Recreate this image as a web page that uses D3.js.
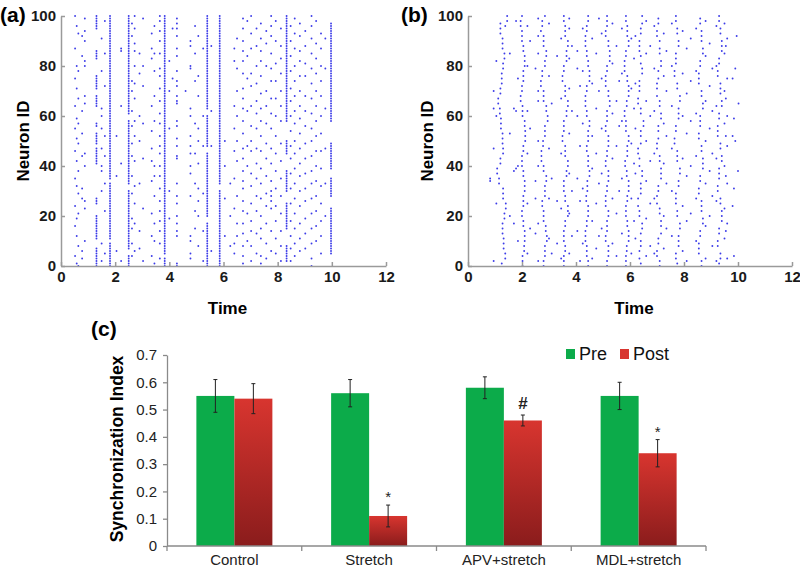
<!DOCTYPE html>
<html><head><meta charset="utf-8">
<script src="https://cdn.jsdelivr.net/npm/d3@7"></script>
<style>body{margin:0;background:#fff}</style>
</head><body><svg id="c" width="800" height="569"></svg>
<script>
// ---------- data ----------
const timeTicks=[0,2,4,6,8,10,12];
const neuronTicks=[0,20,40,60,80,100];
// raster (a): "time:neuronIDs" (a-b = every neuron from a to b)
const spikesA=[
"0.52:100,87,75,64,55,46,35,24,16,4","0.58:96,80,71,59,51,42,32,19,12,1","0.64:93,78,67,57,49,38,29,21,8,0",
"0.78:92,84,62,53,44,31,27,6,3","0.88:99,94,90,82,80,68,65,45,40,26,23,10",
"1.31:95-100,83-86,71-76,64-68,56-57,49-53,41-47,25-27,11-20,0-7",
"1.5:91,78,63,60,55,47,40,38,30,9,2","1.62:98,85,72,52,44,33,22,5",
"1.81:0-9,11-33,35-100",
"2.05:52,36,6","2.22:87,86,64,41,2",
"2.5:0-4,7-30,33-58,61-100",
"2.62:97,92,74,70,62,56,49,44,36,29,19,15,9,4","2.72:100,95,89,86,80,73,67,58,52,42,32,25,17,6",
"2.9:85,77,60,50,33,14,7","3.03:99,80,72,57,43,23,2",
"3.35:93,87,83,64,54,47,42,34,21,12,4","3.45:96,85,78,68,58,40,36,28,17,10,1",
"3.65:100,98,94,90,85,79,76,71,66,61,57,52,48,45,40,36,31,26,22,18,14,9,3",
"3.83:0-3,5-100",
"4.0:82,70,55,30,19","4.12:95,75",
"4.28:99,97,95,92,87,84,78,74,72,68,66,65,58,56,51,48,44,43,33,28,25,20,17,14,12,1,0",
"4.6:70","4.78:90,88,80,79,63,60,52,48,45,40,37,28,12,10,5,3",
"4.95:96,85,74,57,45,33,22,15","5.07:92,76,68,55,50,41,31,26,20,8","5.25:87,60,48,29,14,2",
"5.4:0-17,20-45,48-60,63-100","5.55:88,62,48,6",
"5.86:0-30,33-100",
"6.05:50,40,27,12","6.25:33,20,8",
"6.4:87,82,64,55,46,35,23,9,5","6.5:91,79,70,60,50,42,28,17,12",
"6.72:99,95,90,86,82,77,71,67,63,58,53,47,43,38,34,31,26,22,17,13,8,4,1",
"6.88:98,84,75,62,48,40,21,10","7.02:100,93,87,77,72,64,56,50,46,37,32,25,18,14,8,2",
"7.22:95,88,80,73,66,61,55,47,41,35,28,22,13,5","7.38:97,91,86,82,76,69,63,58,52,46,39,33,27,20,15,11,4,1",
"7.58:94,89,80,70,64,57,49,43,36,29,24,17,9,3","7.76:100,96,92,85,79,74,67,61,55,47,41,34,30,28,26,23,14,6",
"7.93:98,90,81,74,67,60,52,45,38,31,24,18,11,5","8.12:95,88,83,77,70,64,58,49,42,35,28,21,14,8,2",
"8.33:58-100,45-50,30-38,15-25,2-8",
"8.48:96,90,84,78,71,66,60,54,48,43,37,31,25,18,12,7,2","8.63:99,93,87,80,74,68,62,57,50,45,39,33,27,21,15,9,4",
"8.82:97,92,86,82,76,70,64,59,53,47,41,36,30,24,17,11,6","9.02:94,88,81,76,68,62,56,49,43,37,31,26,19,13,7",
"9.25:100,96,91,85,79,73,67,61,55,50,44,38,33,27,21,15,9,3,0","9.42:98,89,83,77,70,64,58,52,46,40,34,28,22,16,10",
"9.6:93,87,80,74,68,60,53,46,39,32,25,18,12,5","9.76:91,79,63,47,33,20",
"9.97:58-97,39-49,28-35,5-23"
];
// raster (b): wavy columns, segments "time:neuronIDs" separated by ";"
const spikesB=[
"1.45:100,98;1.38:96;1.2:97,95,93;1.28:91,89,87;1.35:85,83;1.3:81,79;1.25:77,75,73;1.2:71,69;1.12:67,65;1.18:63,61;1.22:59,57,55;1.28:53,51,49;1.3:47,45;1.2:43,41;1.08:39,37;1.15:35,33;1.3:31,29,27;1.4:25,23;1.35:21,19;1.28:17,15,13;1.32:11,9,7;1.38:5,3;1.25:1",
"0.82:35,34;0.95:70,63,47,2;1.05:82,60,25;1.55:85,53,20;1.7:63,38,17;1.78:98,62,39",
"2.0:100;1.95:98,96;2.0:94,92,90;2.05:88,86;2.1:84,82,80;2.05:78,76,74;2.0:72,70;1.95:68,66;2.02:64,62,60;2.1:58,56;2.12:54,52,50;2.05:48,46;2.0:44,42,40;2.05:38,36;2.1:34,32,30;2.05:28,26,24;2.0:22,20;2.05:18,16;2.1:14,12,10;2.08:8,6;2.02:4,2,0",
"2.2:96,80,62,45,25,5;2.3:90,55,15;1.85:75,40,10;2.5:79,34,27,13;2.6:99,85,66,50,2",
"2.85:100;2.75:98,96;2.7:94;2.8:92,90,88;2.9:86,84;2.85:82,80;2.75:78,76;2.7:74,72;2.8:70,68,66;2.9:64,62;2.95:60,58;2.85:56,54,52;2.78:50,48;2.72:46,44,42;2.8:40,38;2.9:36,34;2.85:32,30,28;2.75:26,24;2.8:22,20,18;2.88:16,14;2.92:12,10;2.85:8,6,4;2.8:2,0",
"3.0:97,76,47,27,11;3.1:65,35,5;3.3:84,26,9;2.6:92,70,40,17",
"3.55:100,98;3.6:96,94,92;3.7:90,88;3.65:86,84,82;3.55:80,78;3.5:76,74;3.6:72,70,68;3.7:66,64;3.65:62,60;3.55:58,56,54;3.5:52,50;3.6:48,46,44;3.7:42,40;3.65:38,36;3.55:34,32,30;3.6:28,26;3.7:24,22,20;3.6:18,16;3.55:14,12,10;3.6:8,6;3.55:4,2,0",
"3.75:99,95,83,71,53,37,21,5;3.85:88,62,30,12;3.45:91,67,45,23,3;4.05:86,79,60,35,14;4.15:72,48,26,2",
"4.45:100,98;4.4:96,94;4.35:92,90,88;4.4:86,84;4.45:82,80;4.5:78,76,74;4.4:72,70;4.35:68,66,64;4.4:62,60;4.5:58,56;4.45:54,52,50;4.4:48,46;4.45:44,42,40;4.5:38,36;4.42:34,32,30;4.38:28,26;4.45:24,22,20;4.4:18,16;4.35:14,12,10;4.4:8,6,4;4.45:2,0",
"4.25:95,78,57,31,9;4.6:91,73,52,39,18,3;4.75:85,63,45,25,7;4.85:99,70,33,12",
"5.15:100,98,96;5.1:94,92;5.2:90,88;5.25:86,84,82;5.15:80,78;5.1:76,74,72;5.2:70,68;5.25:66,64;5.15:62,60,58;5.1:56,54;5.2:52,50,48;5.15:46,44;5.1:42,40;5.2:38,36,34;5.15:32,30;5.1:28,26,24;5.2:22,20;5.15:18,16,14;5.1:12,10;5.2:8,6,4;5.15:2,0",
"4.95:93,75,55,37,15;5.35:97,81,61,43,27,9;5.5:88,66,48,21,4;5.6:74,56,30",
"5.85:100,98;5.9:96,94,92;5.95:90,88;5.85:86,84;5.8:82,80,78;5.9:76,74;5.95:72,70,68;5.88:66,64;5.8:62,60;5.85:58,56,54;5.95:52,50;5.9:48,46,44;5.82:42,40;5.88:38,36;5.95:34,32,30;5.9:28,26;5.85:24,22,20;5.9:18,16;5.95:14,12,10;5.88:8,6;5.85:4,2,0",
"5.7:95,77,58,35,13;6.05:91,71,49,27,5;6.15:83,63,41,18",
"6.45:100,97;6.4:95,93;6.35:90,88,86;6.4:84,81;6.45:79,77;6.35:74,72,70;6.3:67,65;6.4:63,61;6.5:58,56;6.4:54,52,49;6.3:47,45;6.35:43,40;6.45:38,36;6.4:33,31,29;6.3:27,24;6.35:22,20;6.45:17,15;6.4:13,10,8;6.35:6,3;6.4:1",
"6.6:98,85,66,50,34,19,4;6.2:92,73,55,37,11;6.75:88,60,42,25,8",
"7.05:99,97;7.0:94,92;7.1:90,87,85;7.15:82,80;7.05:78,75;7.0:73,71,68;7.1:66,64;7.15:61,59;7.05:56,54,51;7.0:49,47;7.1:44,42;7.15:39,37,35;7.05:32,30;7.0:28,25;7.1:23,21;7.15:18,16,13;7.05:11,9;7.0:6,4;7.1:2,0",
"6.9:96,79,62,45,27,5;7.25:93,76,57,41,20,7;7.35:86,70,52,33,15",
"7.7:100,98;7.75:95,93;7.8:90,88;7.7:85,83,81;7.65:78,76;7.75:73,71;7.85:68,66;7.8:63,61,59;7.7:56,54;7.65:51,49;7.75:46,44,42;7.85:39,37;7.8:34,32;7.7:29,27,25;7.75:22,20;7.85:17,15;7.8:12,10,8;7.7:5,3;7.75:1",
"7.55:97,80,64,47,30,12;7.95:94,77,60,43,24,6;8.1:87,69,53,36,18,2;8.25:91,74,58,40,21",
"8.6:99,97;8.65:94,92,90;8.7:87,85;8.6:82,80;8.55:77,75,73;8.65:70,68;8.7:65,63;8.6:60,58,56;8.55:53,51;8.65:48,46;8.7:43,41,39;8.6:36,34;8.55:31,29;8.65:26,24,22;8.7:19,17;8.6:14,12;8.55:9,7,5;8.65:2,0",
"8.45:95,78,61,44,27,10;8.8:98,84,66,50,33,16,3;8.95:89,72,55,38,20;9.05:79,62,45,28,8",
"9.3:100,98;9.35:95,93;9.4:90,88,86;9.3:83,81;9.25:78,76;9.35:73,71,69;9.4:66,64;9.3:61,59;9.25:56,54,52;9.35:49,47;9.4:44,42;9.3:39,37,35;9.25:32,30;9.35:27,25;9.4:22,20,18;9.3:15,13;9.25:10,8;9.35:5,3;9.3:1",
"9.2:96,80,64,43,26,2;9.5:97,85,70,57,40,23,11;9.6:91,75,60,48,33,17,3;9.55:88,67,52,36,14",
"9.95:92;9.9:79,50;9.8:75,52,24;10.02:65;9.85:59,31,4;10.0:38"
];
const categories=["Control","Stretch","APV+stretch","MDL+stretch"];
const groups=["Pre","Post"];
const preValues=[0.55,0.56,0.58,0.55];
const postValues=[0.54,0.11,0.46,0.34];
const preErrors=[0.06,0.05,0.04,0.05];
const postErrors=[0.055,0.04,0.02,0.05];
const markers=["","*","#","*"];
const syncTicks=[0,0.1,0.2,0.3,0.4,0.5,0.6,0.7];

// ---------- helpers ----------
const FONT="Arial, 'Liberation Sans', sans-serif";
function parseSpikes(list){
  const out=[];
  list.forEach(col=>col.split(";").forEach(seg=>{
    const [t,ids]=seg.split(":");
    ids.split(",").forEach(tok=>{
      if(tok.includes("-")){const [a,b]=tok.split("-").map(Number);for(let n=a;n<=b;n++)out.push({t:+t,n});}
      else out.push({t:+t,n:+tok});
    });
  }));
  return out;
}
const svg=d3.select("#c").style("font-family",FONT);

function raster(spikes,x0,x1,tag,tagX,ylabX){
  const x=d3.scaleLinear().domain([0,12]).range([x0,x1]);
  const y=d3.scaleLinear().domain([0,100]).range([266,16]);
  const g=svg.append("g");
  g.selectAll("circle").data(parseSpikes(spikes)).join("circle")
    .attr("cx",d=>x(d.t)).attr("cy",d=>y(d.n)).attr("r",0.95).attr("fill","#3c3ce8");
  const ax=g.append("g").attr("transform","translate(0,266)")
    .call(d3.axisBottom(x).tickValues(timeTicks).tickSizeInner(-4).tickSizeOuter(0).tickPadding(5));
  const ay=g.append("g").attr("transform",`translate(${x0},0)`)
    .call(d3.axisLeft(y).tickValues(neuronTicks).tickSizeInner(-4).tickSizeOuter(0).tickPadding(5));
  [ax,ay].forEach(a=>{
    a.selectAll("path,line").attr("stroke","#9a9a9a").attr("stroke-width",1.5);
    a.selectAll("text").attr("font-size",15).attr("font-weight","bold").attr("fill","#1a1a1a").attr("font-family",FONT);
  });
  g.append("text").attr("x",(x0+x1)/2+4).attr("y",314).attr("text-anchor","middle")
    .attr("font-size",17).attr("font-weight","bold").text("Time");
  g.append("text").attr("transform",`translate(${ylabX},141) rotate(-90)`).attr("text-anchor","middle")
    .attr("font-size",17).attr("font-weight","bold").text("Neuron ID");
  svg.append("text").attr("x",tagX).attr("y",22).attr("font-size",21).attr("font-weight","bold").text(tag);
}
raster(spikesA,61,386,"(a)",0,29);
raster(spikesB,468,792,"(b)",401,433);

// ---------- bar chart ----------
const defs=svg.append("defs");
const grad=defs.append("linearGradient").attr("id","redg").attr("x1",0).attr("y1",0).attr("x2",0).attr("y2",1);
grad.append("stop").attr("offset","0%").attr("stop-color","#d8352f");
grad.append("stop").attr("offset","100%").attr("stop-color","#8a1c1c");

const bx=d3.scaleBand().domain(categories).range([167,706]).paddingInner(0.436).paddingOuter(0.218);
const bx1=d3.scaleBand().domain(groups).range([0,bx.bandwidth()]);
const by=d3.scaleLinear().domain([0,0.7]).range([546,355]);
const bg=svg.append("g");
const rows=categories.map((c,i)=>[
  {c,g:"Pre",v:preValues[i],e:preErrors[i],m:""},
  {c,g:"Post",v:postValues[i],e:postErrors[i],m:markers[i]}
]).flat();
bg.selectAll("rect.bar").data(rows).join("rect").attr("class","bar")
  .attr("x",d=>bx(d.c)+bx1(d.g)).attr("width",bx1.bandwidth())
  .attr("y",d=>by(d.v)).attr("height",d=>by(0)-by(d.v))
  .attr("fill",d=>d.g==="Pre"?"#0cab4a":"url(#redg)");
const eb=bg.selectAll("g.err").data(rows).join("g").attr("class","err")
  .attr("transform",d=>`translate(${bx(d.c)+bx1(d.g)+bx1.bandwidth()/2},0)`);
eb.append("line").attr("y1",d=>by(d.v+d.e)).attr("y2",d=>by(d.v-d.e)).attr("stroke","#222").attr("stroke-width",1);
eb.append("line").attr("x1",-2).attr("x2",2).attr("y1",d=>by(d.v+d.e)).attr("y2",d=>by(d.v+d.e)).attr("stroke","#222");
eb.append("line").attr("x1",-2).attr("x2",2).attr("y1",d=>by(d.v-d.e)).attr("y2",d=>by(d.v-d.e)).attr("stroke","#222");
eb.filter(d=>d.m).append("text").attr("y",d=>by(d.v+d.e)-(d.m==="#"?6:3)).attr("text-anchor","middle")
  .attr("font-size",d=>d.m==="#"?17:15).attr("font-weight",d=>d.m==="#"?"bold":"normal").attr("fill","#222").text(d=>d.m);

const yAx=bg.append("g").attr("transform","translate(167,0)")
  .call(d3.axisLeft(by).tickValues(syncTicks).tickFormat(d=>d===0?"0":d3.format(".1f")(d)).tickSizeInner(4).tickSizeOuter(0).tickPadding(6));
yAx.selectAll("path,line").attr("stroke","#8a8a8a").attr("stroke-width",1.3);
yAx.selectAll("text").attr("font-size",15).attr("fill","#222").attr("font-family",FONT);
const xAx=bg.append("g").attr("transform","translate(0,546)");
xAx.append("line").attr("x1",167).attr("x2",706).attr("stroke","#8a8a8a").attr("stroke-width",1.3);
xAx.selectAll("line.tk").data(d3.range(categories.length+1)).join("line").attr("class","tk")
  .attr("x1",i=>167+i*bx.step()).attr("x2",i=>167+i*bx.step()).attr("y1",0).attr("y2",5)
  .attr("stroke","#8a8a8a").attr("stroke-width",1.3);
xAx.selectAll("text").data(categories).join("text")
  .attr("x",d=>bx(d)+bx.bandwidth()/2).attr("y",19).attr("text-anchor","middle")
  .attr("font-size",15).attr("fill","#222").text(d=>d);
bg.append("text").attr("transform","translate(123,449) rotate(-90)").attr("text-anchor","middle")
  .attr("font-size",17.5).attr("font-weight","bold").text("Synchronization Index");
svg.append("text").attr("x",91).attr("y",336).attr("font-size",21).attr("font-weight","bold").text("(c)");
// legend
const lg=svg.append("g").attr("transform","translate(566,349)");
lg.selectAll("rect").data(groups).join("rect").attr("x",(d,i)=>i*54).attr("y",0).attr("width",9).attr("height",10)
  .attr("fill",d=>d==="Pre"?"#0cab4a":"#d8352f");
lg.selectAll("text").data(groups).join("text").attr("x",(d,i)=>i*54+13).attr("y",11)
  .attr("font-size",18).attr("fill","#111").text(d=>d);
</script></body></html>
